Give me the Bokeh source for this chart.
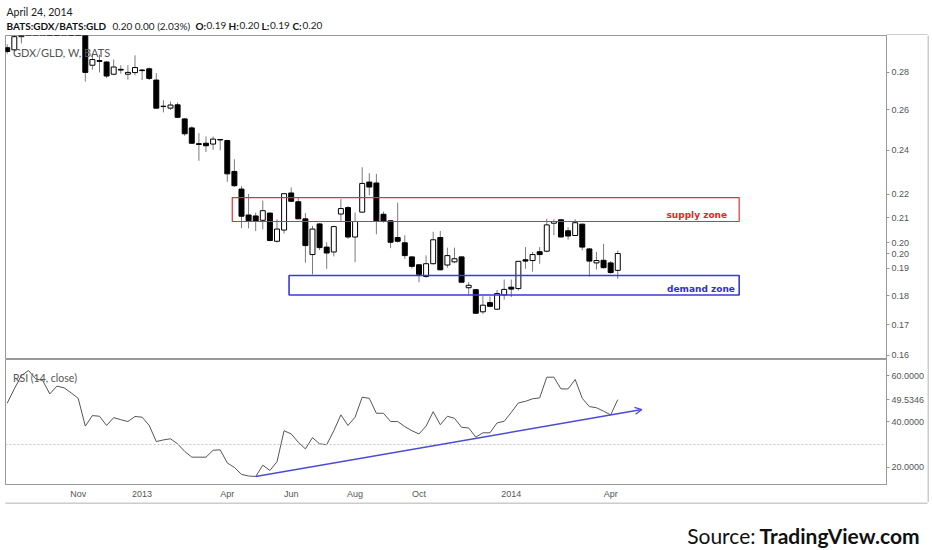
from bokeh.plotting import figure
from bokeh.models import (Range1d, FixedTicker, PrintfTickFormatter, Label, Span,
                          Arrow, OpenHead, ColumnDataSource)
from bokeh.layouts import column, row
from bokeh.embed import file_html
from bokeh.resources import INLINE
from bokeh.core.properties import value

# ---- weekly GDX/GLD bars (index 0 = week of 20 Aug 2012, last = week of 21 Apr 2014)
opens = [0.2940, 0.2928, 0.3005, 0.3060, 0.3120, 0.3150, 0.3190, 0.3160, 0.3130, 0.3150,
         0.3080, 0.3050, 0.2840, 0.2866, 0.2858, 0.2790, 0.2817, 0.2790, 0.2799, 0.2813,
         0.2820, 0.2758, 0.2617, 0.2609, 0.2626, 0.2554, 0.2509, 0.2432, 0.2434, 0.2430,
         0.2452, 0.2447, 0.2302, 0.2223, 0.2112, 0.2108, 0.2090, 0.2120, 0.2005, 0.2050,
         0.2206, 0.2168, 0.2096, 0.1953, 0.2075, 0.1982, 0.1963, 0.2116, 0.2143, 0.2022,
         0.2124, 0.2254, 0.2250, 0.2115, 0.2088, 0.2020, 0.1999, 0.1944, 0.1914, 0.1870,
         0.1918, 0.2020, 0.1913, 0.1925, 0.1944, 0.1829, 0.1822, 0.1744, 0.1776, 0.1753,
         0.1803, 0.1831, 0.1826, 0.1933, 0.1930, 0.1964, 0.1966, 0.2078, 0.2092, 0.2047,
         0.2028, 0.2074, 0.1975, 0.1921, 0.1931, 0.1921, 0.1893]
highs = [0.2960, 0.3040, 0.3090, 0.3150, 0.3185, 0.3220, 0.3230, 0.3200, 0.3180, 0.3170,
         0.3120, 0.3060, 0.2906, 0.2900, 0.2864, 0.2872, 0.2840, 0.2840, 0.2896, 0.2820,
         0.2827, 0.2796, 0.2650, 0.2643, 0.2638, 0.2558, 0.2517, 0.2483, 0.2467, 0.2467,
         0.2453, 0.2450, 0.2358, 0.2236, 0.2202, 0.2122, 0.2173, 0.2122, 0.2094, 0.2203,
         0.2230, 0.2185, 0.2120, 0.2067, 0.2078, 0.2001, 0.2068, 0.2180, 0.2150, 0.2122,
         0.2321, 0.2294, 0.2291, 0.2126, 0.2090, 0.2164, 0.2029, 0.1946, 0.1916, 0.1950,
         0.2043, 0.2046, 0.1980, 0.1980, 0.1946, 0.1849, 0.1824, 0.1800, 0.1798, 0.1821,
         0.1859, 0.1859, 0.1927, 0.1982, 0.1963, 0.1982, 0.2096, 0.2094, 0.2094, 0.2061,
         0.2094, 0.2076, 0.1978, 0.1963, 0.1995, 0.1928, 0.1969]
lows = [0.2905, 0.2915, 0.2965, 0.3040, 0.3090, 0.3120, 0.3130, 0.3100, 0.3080, 0.3060,
        0.3020, 0.2750, 0.2815, 0.2800, 0.2770, 0.2784, 0.2793, 0.2760, 0.2784, 0.2758,
        0.2758, 0.2605, 0.2587, 0.2600, 0.2558, 0.2470, 0.2430, 0.2351, 0.2392, 0.2403,
        0.2400, 0.2255, 0.2233, 0.2057, 0.2057, 0.2046, 0.2053, 0.2005, 0.2000, 0.2036,
        0.2168, 0.2096, 0.1922, 0.1878, 0.1970, 0.1899, 0.1946, 0.2085, 0.2015, 0.1924,
        0.2123, 0.2196, 0.2033, 0.2080, 0.1978, 0.2000, 0.1936, 0.1900, 0.1849, 0.1865,
        0.1915, 0.1893, 0.1903, 0.1920, 0.1849, 0.1803, 0.1737, 0.1737, 0.1760, 0.1750,
        0.1786, 0.1796, 0.1819, 0.1899, 0.1888, 0.1918, 0.1962, 0.2029, 0.2020, 0.2011,
        0.2026, 0.1969, 0.1870, 0.1896, 0.1900, 0.1880, 0.1862]
closes = [0.2918, 0.3005, 0.3060, 0.3120, 0.3150, 0.3190, 0.3160, 0.3130, 0.3150, 0.3080,
          0.3050, 0.2800, 0.2872, 0.2862, 0.2780, 0.2830, 0.2813, 0.2800, 0.2827, 0.2810,
          0.2767, 0.2609, 0.2619, 0.2625, 0.2562, 0.2480, 0.2434, 0.2428, 0.2422, 0.2454,
          0.2450, 0.2291, 0.2238, 0.2107, 0.2088, 0.2086, 0.2130, 0.2008, 0.2054, 0.2203,
          0.2170, 0.2096, 0.1988, 0.2054, 0.1980, 0.1959, 0.2064, 0.2139, 0.2022, 0.2085,
          0.2248, 0.2232, 0.2085, 0.2085, 0.2001, 0.2005, 0.1949, 0.1908, 0.1878, 0.1918,
          0.2011, 0.1895, 0.1949, 0.1937, 0.1849, 0.1838, 0.1739, 0.1767, 0.1763, 0.1808,
          0.1823, 0.1824, 0.1927, 0.1928, 0.1953, 0.1953, 0.2071, 0.2085, 0.2022, 0.2026,
          0.2080, 0.1982, 0.1928, 0.1930, 0.1903, 0.1885, 0.1957]
rsi = [48.0, 54.2, 60.0, 62.2, 58.6, 57.8, 52.0, 55.4, 54.7, 52.5,
       50.1, 38.0, 42.6, 42.3, 38.3, 41.7, 40.8, 40.0, 42.2, 41.9,
       38.3, 31.3, 32.0, 32.5, 30.3, 27.0, 24.5, 24.5, 24.5, 27.5,
       27.7, 22.0, 20.0, 17.0, 16.3, 16.1, 21.0, 18.7, 22.5, 36.0,
       34.6, 31.0, 28.1, 33.0, 30.3, 29.9, 36.0, 42.9, 38.3, 41.9,
       50.6, 50.1, 43.6, 43.6, 40.0, 40.0, 37.8, 36.0, 34.6, 38.0,
       44.3, 38.6, 42.3, 41.4, 37.5, 37.2, 33.2, 35.1, 35.1, 39.4,
       40.1, 44.0, 48.1, 48.8, 49.9, 50.3, 59.3, 59.3, 54.2, 54.2,
       58.3, 50.1, 46.5, 46.0, 44.5, 42.9, 49.5346]

month_ticks = [10, 19, 31, 40, 49, 58, 71, 85]
month_labels = ["Nov", "2013", "Apr", "Jun", "Aug", "Oct", "2014", "Apr"]
price_ticks = [0.16, 0.17, 0.18, 0.19, 0.20, 0.21, 0.22, 0.24, 0.26, 0.28]
rsi_ticks = [20, 40, 60]
rsi_mid_level = 30

# zones: [first bar, last bar, low price, high price]
supply_zone = [31.7, 103.1, 0.2085, 0.2186]
demand_zone = [39.7, 103.1, 0.1803, 0.1874]
# RSI trendline: bars and RSI values at its two ends
trend_bars = [35.0, 89.4]
trend_rsi = [16.1, 45.2]

X_RANGE = (-0.24, 123.85)
W = 932
STRIP_W = 5
CW = W - STRIP_W          # width of the two chart panes
LEFT = 5
AXIS_W = 41
PRICE_H = 324
RSI_H = 143
FONT_AX = "Liberation Sans"
GREY = "#999999"

bars = list(range(len(closes)))
up = [c >= o for o, c in zip(opens, closes)]


def body_src(flag):
    idx = [i for i in bars if up[i] == flag]
    return ColumnDataSource(dict(
        x=idx,
        top=[max(opens[i], closes[i]) for i in idx],
        bottom=[min(opens[i], closes[i]) for i in idx],
    ))


def plain_fig(w, h):
    f = figure(width=w, height=h, x_range=Range1d(0, w), y_range=Range1d(h, 0),
               toolbar_location=None, output_backend="svg",
               x_axis_location=None, y_axis_location=None,
               min_border=0, min_border_left=0, min_border_right=0,
               min_border_top=0, min_border_bottom=0)
    f.outline_line_color = None
    f.background_fill_color = "white"
    f.border_fill_color = "white"
    f.grid.visible = False
    try:
        f.frame_align = False   # keep this strip out of frame alignment
    except AttributeError:
        pass
    return f


def style_axis(ax):
    ax.axis_line_color = GREY
    ax.major_tick_line_color = GREY
    ax.major_tick_out = 3
    ax.major_tick_in = 0
    ax.minor_tick_out = 0
    ax.minor_tick_in = 0
    ax.major_label_standoff = 2
    ax.major_label_text_font = FONT_AX
    ax.major_label_text_font_size = "9px"
    ax.major_label_text_color = "#555555"


# ---------------- header ----------------
hdr = plain_fig(W, 35)
hdr.text(x=[6], y=[11], text=["April 24, 2014"], text_font=value("Lato"),
         text_font_size="10.5px", text_color="#222222", text_baseline="middle")
hdr_txt = ["BATS:GDX/BATS:GLD", f"{closes[-1]:.2f} 0.00 (2.03%)",
           "O:", f"{opens[-1]:.2f}", "H:", f"{highs[-1]:.2f}",
           "L:", f"{lows[-1]:.2f}", "C:", f"{closes[-1]:.2f}"]
hdr_x = [6, 112, 195, 206, 228, 239, 261, 269.5, 292, 302]
bold = [0, 2, 4, 6, 8]
reg = [1, 3, 5, 7, 9]
hdr.text(x=[hdr_x[i] for i in bold], y=[25] * len(bold), text=[hdr_txt[i] for i in bold],
         text_font=value("Lato"), text_font_size="10px", text_font_style="bold",
         text_color="#111111", text_baseline="middle")
hdr.text(x=[hdr_x[i] for i in reg], y=[25] * len(reg), text=[hdr_txt[i] for i in reg],
         text_font=value("Lato"), text_font_size="10px",
         text_color="#222222", text_baseline="middle")
hdr.segment(x0=[CW - AXIS_W], y0=[34.5], x1=[CW], y1=[34.5], line_color=GREY, line_width=1)

# ---------------- price pane ----------------
p = figure(width=CW, height=PRICE_H, x_range=Range1d(*X_RANGE), y_range=Range1d(0.1587, 0.3012),
           y_axis_type="log", y_axis_location="right", x_axis_location=None,
           toolbar_location=None, output_backend="svg",
           min_border_left=LEFT, min_border_top=0, min_border_bottom=0, min_border_right=AXIS_W)
p.grid.visible = False
p.outline_line_color = GREY
p.background_fill_color = "white"
p.border_fill_color = "white"

p.segment(x0=bars, y0=highs, x1=bars, y1=lows, line_color="#7a7a7a", line_width=1)
p.vbar(x="x", top="top", bottom="bottom", width=0.7, source=body_src(True),
       fill_color="white", line_color="black", line_width=1)
p.vbar(x="x", top="top", bottom="bottom", width=0.7, source=body_src(False),
       fill_color="black", line_color="black", line_width=1)

p.quad(left=[supply_zone[0]], right=[supply_zone[1]], bottom=[supply_zone[2]], top=[supply_zone[3]],
       fill_alpha=0, line_color="#e03232", line_width=1.2)
p.quad(left=[demand_zone[0]], right=[demand_zone[1]], bottom=[demand_zone[2]], top=[demand_zone[3]],
       fill_alpha=0, line_color="#3a3ad8", line_width=1.6)
p.text(x=[supply_zone[1] - 1.7], y=[0.2113], text=["supply zone"], text_align="right",
       text_baseline="middle", text_font=value("DejaVu Sans"), text_font_size="9px",
       text_font_style="bold", text_color="#e02828")
p.text(x=[demand_zone[1] - 0.6], y=[0.1824], text=["demand zone"], text_align="right",
       text_baseline="middle", text_font=value("DejaVu Sans"), text_font_size="9px",
       text_font_style="bold", text_color="#3030c8")

p.add_layout(Label(x=0.8, y=0.2915, text="GDX/GLD, W, BATS", text_font="Lato",
                   text_font_size="11px", text_color="#555555", text_baseline="middle"))

ya = p.yaxis[0]
# regular price ticks plus the last close marker
ya.ticker = FixedTicker(ticks=price_ticks + [closes[-1]])
ya.formatter = PrintfTickFormatter(format="%.2f")
style_axis(ya)

# ---------------- RSI pane ----------------
r = figure(width=CW, height=RSI_H, x_range=p.x_range, y_range=Range1d(12.6, 67.0),
           y_axis_location="right", toolbar_location=None, output_backend="svg",
           min_border_left=LEFT, min_border_top=0, min_border_bottom=18, min_border_right=AXIS_W)
r.grid.visible = False
r.outline_line_color = GREY
r.background_fill_color = "white"
r.border_fill_color = "white"
r.add_layout(Span(location=rsi_mid_level, dimension="width", line_color="#c4c4c4",
                  line_dash="2 2", line_width=1))
r.line(bars, rsi, line_color="#555555", line_width=1)
r.add_layout(Arrow(x_start=trend_bars[0], y_start=trend_rsi[0], x_end=trend_bars[1], y_end=trend_rsi[1],
                   line_color="#4b4bd6", line_width=1.5,
                   end=OpenHead(size=7, line_color="#4b4bd6", line_width=1.3)))
r.add_layout(Label(x=0.8, y=59.1, text="RSI (14, close)", text_font="Lato",
                   text_font_size="10.5px", text_color="#555555", text_baseline="middle"))

ry = r.yaxis[0]
# regular RSI ticks plus the last RSI value marker
ry.ticker = FixedTicker(ticks=rsi_ticks + [rsi[-1]])
ry.formatter = PrintfTickFormatter(format="%.4f")
style_axis(ry)

rx = r.xaxis[0]
rx.ticker = FixedTicker(ticks=month_ticks)
rx.major_label_overrides = {t: l for t, l in zip(month_ticks, month_labels)}
rx.axis_line_color = GREY
rx.major_tick_out = 0
rx.major_tick_in = 0
rx.minor_tick_out = 0
rx.minor_tick_in = 0
rx.major_label_standoff = 4
rx.major_label_text_font = FONT_AX
rx.major_label_text_font_size = "9px"
rx.major_label_text_color = "#555555"

# ---------------- right border strip ----------------
strip = plain_fig(STRIP_W, PRICE_H + RSI_H)
strip.segment(x0=[0.5], y0=[0], x1=[0.5], y1=[PRICE_H + RSI_H], line_color=GREY, line_width=1)

# ---------------- source footer ----------------
ft = plain_fig(W, 48)
ft.segment(x0=[LEFT], y0=[0.5], x1=[CW], y1=[0.5], line_color=GREY, line_width=1)
ft.text(x=[755], y=[33], text=["Source:"], text_align="right", text_baseline="alphabetic",
        text_font=value("Lato"), text_font_size="21px", text_color="#111111")
ft.text(x=[759], y=[33], text=["TradingView.com"], text_align="left", text_baseline="alphabetic",
        text_font=value("Lato"), text_font_size="21px", text_font_style="bold", text_color="#111111")

layout = column(hdr, row(column(p, r, spacing=0), strip, spacing=0), ft, spacing=0)
open("out.html", "w").write(file_html(layout, INLINE))
